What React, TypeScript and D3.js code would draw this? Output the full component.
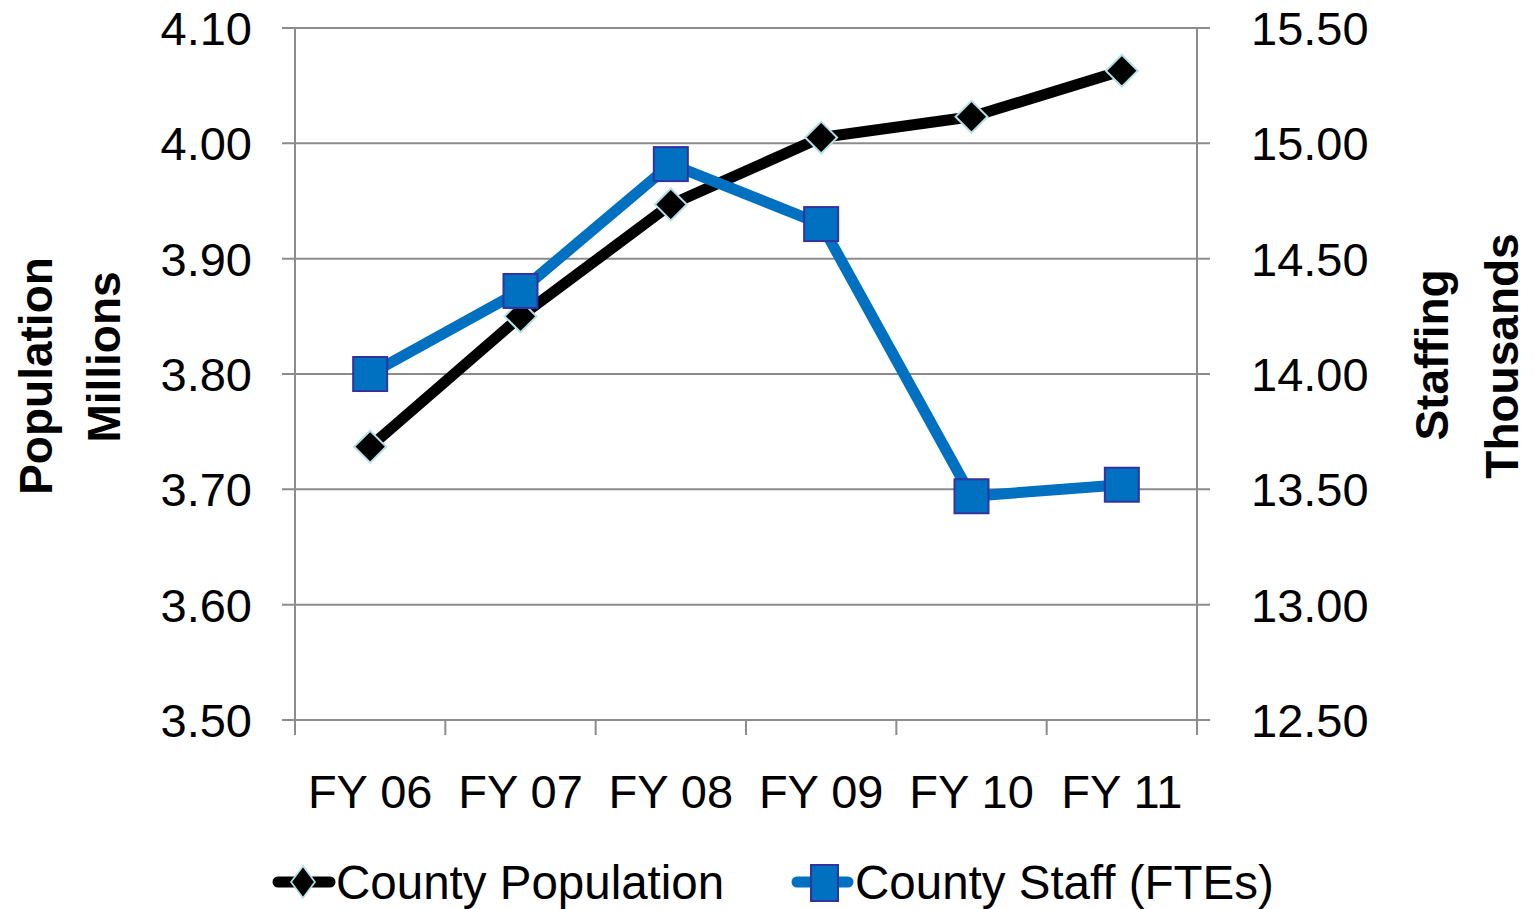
import React from "react";
import * as d3 from "d3";

const categories = ["FY 06", "FY 07", "FY 08", "FY 09", "FY 10", "FY 11"];
const population = [3.737, 3.85, 3.947, 4.005, 4.023, 4.063];
const staff = [14.0, 14.36, 14.91, 14.65, 13.47, 13.52];
const leftTicks = [3.5, 3.6, 3.7, 3.8, 3.9, 4.0, 4.1];
const rightTicks = [12.5, 13.0, 13.5, 14.0, 14.5, 15.0, 15.5];

const FONT = "'Liberation Sans', Arial, sans-serif";
const GRID = "#8c8c8c";
const BLUE = "#0070c0";

export default function App() {
  const left = 295, right = 1197, top = 28, bottom = 720;
  const x = d3.scaleBand<string>().domain(categories).range([left, right]).padding(0);
  const cx = (c: string) => (x(c) as number) + x.bandwidth() / 2;
  const yL = d3.scaleLinear().domain([3.5, 4.1]).range([bottom, top]);
  const yR = d3.scaleLinear().domain([12.5, 15.5]).range([bottom, top]);

  const popLine = d3.line<number>().x((_, i) => cx(categories[i])).y((d) => yL(d));
  const staffLine = d3.line<number>().x((_, i) => cx(categories[i])).y((d) => yR(d));
  const diamond = d3.symbol().type(d3.symbolDiamond2).size(18 * 18 * 2)();

  const edges = categories.map((c) => x(c) as number).concat([right]);

  return (
    <svg width={1535} height={909} style={{ position: "absolute", left: 0, top: 0, background: "#fff" }} fontFamily={FONT}>
      {/* gridlines */}
      {leftTicks.map((t) => (
        <line key={"g" + t} x1={left - 13} x2={right + 13} y1={yL(t)} y2={yL(t)} stroke={GRID} strokeWidth={2} />
      ))}
      <line x1={left} x2={left} y1={top} y2={bottom + 15} stroke={GRID} strokeWidth={2} />
      <line x1={right} x2={right} y1={top} y2={bottom + 15} stroke={GRID} strokeWidth={2} />
      {edges.map((e, i) => (
        <line key={"t" + i} x1={e} x2={e} y1={bottom} y2={bottom + 15} stroke={GRID} strokeWidth={2} />
      ))}

      {/* tick labels */}
      {leftTicks.map((t) => (
        <text key={"l" + t} x={252} y={yL(t)} dy="0.36em" textAnchor="end" fontSize={47}>
          {t.toFixed(2)}
        </text>
      ))}
      {rightTicks.map((t) => (
        <text key={"r" + t} x={1251} y={yR(t)} dy="0.36em" textAnchor="start" fontSize={47}>
          {t.toFixed(2)}
        </text>
      ))}
      {categories.map((c) => (
        <text key={c} x={cx(c)} y={808} textAnchor="middle" fontSize={47}>
          {c}
        </text>
      ))}

      {/* axis titles */}
      <text transform="translate(52,376) rotate(-90)" textAnchor="middle" fontSize={46} fontWeight="bold">Population</text>
      <text transform="translate(120,357) rotate(-90)" textAnchor="middle" fontSize={46} fontWeight="bold">Millions</text>
      <text transform="translate(1448,355) rotate(-90)" textAnchor="middle" fontSize={46} fontWeight="bold">Staffing</text>
      <text transform="translate(1518,356) rotate(-90)" textAnchor="middle" fontSize={46} fontWeight="bold">Thousands</text>

      {/* population series */}
      <path d={popLine(population) as string} fill="none" stroke="#000" strokeWidth={11} strokeLinejoin="round" />
      {population.map((v, i) => (
        <path key={"p" + i} d={diamond as string} transform={`translate(${cx(categories[i])},${yL(v)})`} fill="#000" stroke="#b4e0e6" strokeWidth={2} />
      ))}

      {/* staff series */}
      <path d={staffLine(staff) as string} fill="none" stroke={BLUE} strokeWidth={11} strokeLinejoin="round" />
      {staff.map((v, i) => (
        <rect key={"s" + i} x={cx(categories[i]) - 17} y={yR(v) - 17} width={34} height={34} fill={BLUE} stroke="#3333a0" strokeWidth={2} />
      ))}

      {/* legend */}
      <line x1={278} x2={330} y1={882} y2={882} stroke="#000" strokeWidth={11} strokeLinecap="round" />
      <path d={diamond as string} transform="translate(303,882) scale(0.75,1)" fill="#000" stroke="#b4e0e6" strokeWidth={2} />
      <text x={336} y={899} fontSize={47.5}>County Population</text>
      <line x1={797} x2={848} y1={882} y2={882} stroke={BLUE} strokeWidth={11} strokeLinecap="round" />
      <rect x={811} y={865} width={27} height={36} fill={BLUE} stroke="#3333a0" strokeWidth={2} />
      <text x={855} y={899} fontSize={47.5}>County Staff (FTEs)</text>
    </svg>
  );
}
